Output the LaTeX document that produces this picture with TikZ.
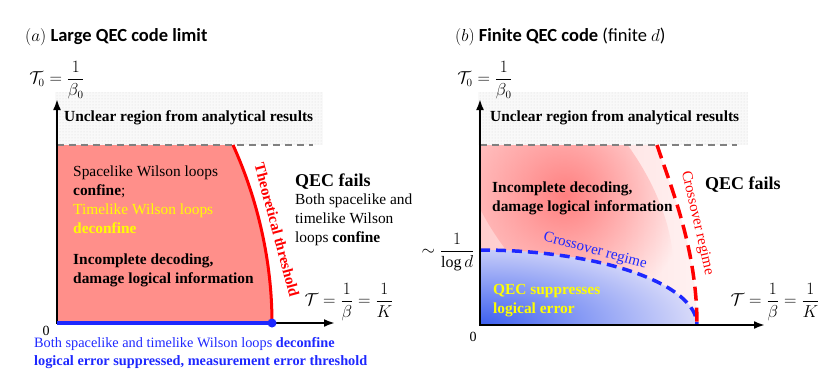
\documentclass[tikz,border=0pt]{standalone}
\usepackage{amsmath}
\usepackage{fontspec}
\setmainfont{Liberation Serif}
\newfontfamily\bodyfont{Liberation Serif}
\newfontfamily\titlefont{Carlito}
\usetikzlibrary{arrows.meta,patterns,fadings}

\definecolor{qecred}{RGB}{255,143,138}
\definecolor{qecblue}{RGB}{30,40,255}
\definecolor{deepblue}{RGB}{60,95,240}
\definecolor{paleblue}{RGB}{226,226,250}
\definecolor{qecyellow}{RGB}{255,255,0}
\definecolor{pinkleft}{RGB}{255,205,205}
\definecolor{pinkright}{RGB}{255,242,242}
\definecolor{hotpink}{RGB}{255,128,128}

\tikzfading[name=softspot, inner color=transparent!0, outer color=transparent!100]

\begin{document}
\begin{tikzpicture}[x=1pt, y=-1pt,
        axis/.style={line width=2.5pt, {Latex[length=11pt,width=8pt]}-{Latex[length=11pt,width=8pt]}},
        unclear/.style={pattern=dots, pattern color=gray!30},
        limitline/.style={gray, line width=1.5pt, dash pattern=on 7pt off 5pt},
        body/.style={anchor=west, align=left, inner sep=0pt, font=\bodyfont\fontsize{15.4}{19}\selectfont},
        bodyb/.style={body, font=\bodyfont\fontsize{15.4}{19}\selectfont\bfseries},
        fails/.style={anchor=west, inner sep=0pt, font=\bodyfont\fontsize{18}{21}\selectfont\bfseries},
        regime/.style={inner sep=0pt, font=\bodyfont\fontsize{15}{17}\selectfont},
        mathlabel/.style={inner sep=0pt, font=\fontsize{16}{19}\selectfont},
        paneltitle/.style={anchor=west, inner sep=0pt, font=\fontsize{18.5}{21}\selectfont\titlefont},
        zero/.style={inner sep=0pt, font=\bodyfont\fontsize{14}{16}\selectfont},
    ]
    \useasboundingbox (0,0) rectangle (830,378);

    % ===== (a) Large QEC code limit =====
    \coordinate (oA) at (57,323);
    \coordinate (xA) at (335,323);
    \coordinate (yA) at (57,99);
    \coordinate (topA) at (233,145);
    \coordinate (thrA) at (272,323);
    \coordinate (dashA) at (313,145);

    % unclear band and decoding region
    \fill[gray!5] (55,92) rectangle (323,145);
    \fill[unclear] (55,92) rectangle (323,145);
    \fill[qecred] (oA) |- (topA) .. controls (258,200) and (272,262) .. (thrA) -- cycle;

    \draw[limitline] (oA |- topA) -- (dashA);
    \draw[red, line width=3pt] (topA) .. controls (258,200) and (272,262) .. (thrA);
    \draw[axis] (yA) |- (xA);
    \draw[qecblue, line width=4pt] (oA) -- (thrA);
    \fill[qecblue] (thrA) circle (4.5);

    \node[paneltitle] (titleA) at (25,37) {$(a)$ \textbf{Large QEC code limit}};
    \node[mathlabel] (T0A) at (57,80) {$\mathcal{T}_0=\dfrac{1}{\beta_0}$};
    \node[bodyb] (unclearA) at (64,118) {Unclear region from analytical results};
    \node[body] (loopsA) at (73,182) {Spacelike Wilson loops\\\textbf{confine};};
    \node[body, text=qecyellow] (timeA) at (73,219) {Timelike Wilson loops\\\textbf{deconfine}};
    \node[bodyb] (decodeA) at (73,270) {Incomplete decoding,\\damage logical information};
    \node[regime, red, font=\bodyfont\fontsize{15}{17}\selectfont\bfseries, rotate=-75] (thrlabel) at (277,230) {Theoretical threshold};
    \node[fails] (failsA) at (295,182) {QEC fails};
    \node[body] (bothA) at (295,220) {Both spacelike and\\timelike Wilson\\loops \textbf{confine}};
    \node[mathlabel] (TA) at (349,302) {$\mathcal{T}=\dfrac{1}{\beta}=\dfrac{1}{K}$};
    \node[zero] (zeroA) at (46,331) {0};
    \node[body, text=qecblue, font=\bodyfont\fontsize{14.3}{17.5}\selectfont] (bottomA) at (34,353) {Both spacelike and timelike Wilson loops \textbf{deconfine}\\\textbf{logical error suppressed, measurement error threshold}};

    % ===== (b) Finite QEC code =====
    \coordinate (oB) at (480,325);
    \coordinate (xB) at (765,325);
    \coordinate (yB) at (480,99);
    \coordinate (topB) at (657,145);
    \coordinate (endB) at (697,325);
    \coordinate (lowB) at (480,250);
    \coordinate (dashB) at (737,145);

    \fill[gray!5] (478,92) rectangle (748,145);
    \fill[unclear] (478,92) rectangle (748,145);

    % red region, shaded
    \begin{scope}
        \clip (oB) |- (topB) .. controls (672,190) and (697,250) .. (endB) -- cycle;
        \shade[left color=pinkleft, right color=pinkright] (480,145) rectangle (700,325);
        \begin{scope}[rotate around={-55:(565,195)}]
            \fill[hotpink, path fading=softspot] (565,195) ellipse [x radius=150, y radius=80];
        \end{scope}
    \end{scope}

    % blue region, shaded
    \fill[paleblue] (oB) -- (lowB) .. controls (600,250) and (697,284) .. (endB) -- cycle;
    \begin{scope}
        \clip (oB) -- (lowB) .. controls (600,250) and (697,284) .. (endB) -- cycle;
        \shade[inner color=deepblue, outer color=paleblue] (oB) ellipse [x radius=230, y radius=90];
    \end{scope}

    \draw[limitline] (oB |- topB) -- (dashB);
    \draw[qecblue, line width=3.5pt, dash pattern=on 10pt off 6pt] (lowB) .. controls (600,250) and (697,284) .. (endB);
    \draw[red, line width=3.5pt, dash pattern=on 14pt off 7pt] (topB) .. controls (672,190) and (697,250) .. (endB);
    \draw[axis] (yB) |- (xB);

    \node[paneltitle] (titleB) at (455,37) {$(b)$ \textbf{Finite QEC code} (finite $d$)};
    \node[mathlabel] (T0B) at (485,80) {$\mathcal{T}_0=\dfrac{1}{\beta_0}$};
    \node[bodyb] (unclearB) at (490,118) {Unclear region from analytical results};
    \node[bodyb] (decodeB) at (492,198) {Incomplete decoding,\\damage logical information};
    \node[fails] (failsB) at (705,185) {QEC fails};
    \node[regime, text=qecblue, rotate=-15] (crossblue) at (595,251) {Crossover regime};
    \node[regime, red, rotate=-77] (crossred) at (697,223) {Crossover regime};
    \node[bodyb, text=qecyellow] (suppress) at (493,301) {QEC suppresses\\logical error};
    \node[mathlabel] (logd) at (448,252) {$\sim\dfrac{1}{\log d}$};
    \node[zero] (zeroB) at (473,337) {0};
    \node[mathlabel] (TB) at (775,302) {$\mathcal{T}=\dfrac{1}{\beta}=\dfrac{1}{K}$};
\end{tikzpicture}
\end{document}
